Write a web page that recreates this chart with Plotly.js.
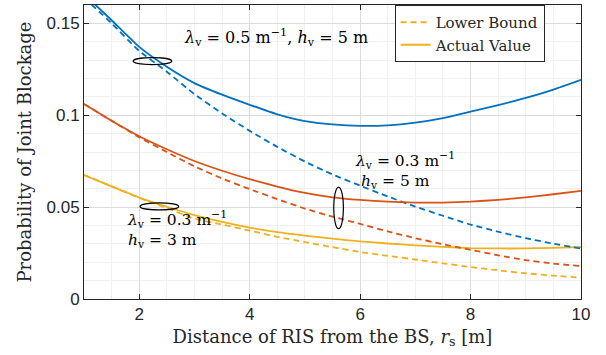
<!DOCTYPE html>
<html><head><meta charset="utf-8">
<script src="https://cdn.plot.ly/plotly-3.0.1.min.js"></script>
<style>html,body{margin:0;padding:0;background:#fff;}#chart{width:606px;height:355px;}</style>
</head><body><div id="chart"></div>
<script>
const distance = [1,1.5,2,2.5,3,3.5,4,4.5,5,5.5,6,6.5,7,7.5,8,8.5,9,9.5,10];
const actual_05_5 = [0.166,0.1517,0.1372,0.1264,0.1175,0.1112,0.1057,0.1005,0.0968,0.0950,0.0942,0.0945,0.0960,0.0985,0.1020,0.1055,0.1094,0.1140,0.1193];
const lower_05_5  = [0.164,0.150,0.135,0.1237,0.1115,0.1010,0.0915,0.0828,0.0748,0.0678,0.0617,0.0558,0.0503,0.0453,0.0405,0.0366,0.0331,0.0301,0.0275];
const actual_03_5 = [0.1061,0.0970,0.0886,0.0815,0.0751,0.0698,0.0652,0.0612,0.0577,0.0553,0.0539,0.0530,0.0525,0.0525,0.0530,0.0540,0.0553,0.0570,0.0589];
const lower_03_5  = [0.1061,0.0970,0.0880,0.0800,0.0722,0.0656,0.0598,0.0544,0.0492,0.0448,0.0409,0.0368,0.0331,0.0298,0.0268,0.0238,0.0211,0.0193,0.0179];
const actual_03_3 = [0.0675,0.0613,0.0552,0.0502,0.0457,0.0420,0.0389,0.0364,0.0345,0.0328,0.0314,0.0302,0.0292,0.0284,0.0277,0.0275,0.0275,0.0278,0.0283];
const lower_03_3  = [0.0675,0.0613,0.0550,0.0495,0.0437,0.0405,0.0372,0.0338,0.0310,0.0282,0.0256,0.0235,0.0215,0.0194,0.0174,0.0156,0.0140,0.0127,0.0116];
const legendNames = ['Lower Bound','Actual Value'];

const BLUE='#0072BD', RED='#D95319', YEL='#EDB120';
const serif = 'DejaVu Serif';
const sans = 'Liberation Sans';
const dash = '6px,4px';
function tr(y,color,isDash,show,name){
  return {x:distance,y:y,type:'scatter',mode:'lines',name:name||'',showlegend:!!show,
    line:{color:color,width:1.8,dash:isDash?dash:'solid',shape:'spline',smoothing:0.5},hoverinfo:'skip'};
}
const data = [
  tr(lower_03_3,YEL,true,true,legendNames[0]),
  tr(actual_03_3,YEL,false,true,legendNames[1]),
  tr(lower_05_5,BLUE,true,false),
  tr(actual_05_5,BLUE,false,false),
  tr(lower_03_5,RED,true,false),
  tr(actual_03_5,RED,false,false)
];
const axCol='#262626';
const layout = {
  width:606,height:355,margin:{l:84,r:25,t:5,b:56},
  paper_bgcolor:'#fff',plot_bgcolor:'#fff',
  xaxis:{range:[1,10],tickvals:[2,4,6,8,10],ticks:'inside',ticklen:5,tickcolor:axCol,
    showline:true,linecolor:axCol,linewidth:1,mirror:'ticks',zeroline:false,
    showgrid:true,gridcolor:'#dcdcdc',gridwidth:1,
    minor:{dtick:0.5,showgrid:true,gridcolor:'#f0f0f0',ticks:''},
    tickfont:{family:sans,size:17,color:axCol},
    title:{text:'Distance of RIS from the BS, <i>r</i><sub>s</sub> [m]',font:{family:serif,size:18,color:axCol},standoff:6}},
  yaxis:{range:[0,0.16],tickvals:[0,0.05,0.1,0.15],ticktext:['0','0.05','0.1','0.15'],ticks:'inside',ticklen:5,tickcolor:axCol,
    showline:true,linecolor:axCol,linewidth:1,mirror:'ticks',zeroline:false,
    showgrid:true,gridcolor:'#dcdcdc',gridwidth:1,
    minor:{dtick:0.01,showgrid:true,gridcolor:'#f0f0f0',ticks:''},
    tickfont:{family:sans,size:17,color:axCol},
    title:{text:'Probability of Joint Blockage',font:{family:serif,size:18,color:axCol},standoff:10}},
  legend:{x:0.625,y:1.0,xanchor:'left',yanchor:'top',bgcolor:'#fff',bordercolor:axCol,borderwidth:1,
    font:{family:serif,size:15,color:axCol},tracegroupgap:0,itemwidth:30},
  showlegend:true,
  shapes:[
    {type:'circle',xref:'x',yref:'y',x0:2.24-0.35,x1:2.24+0.35,y0:0.1295-0.0019,y1:0.1295+0.0019,line:{color:'#000',width:1.2}},
    {type:'circle',xref:'x',yref:'y',x0:5.61-0.088,x1:5.61+0.088,y0:0.0496-0.0113,y1:0.0496+0.0113,line:{color:'#000',width:1.2}},
    {type:'circle',xref:'x',yref:'y',x0:2.365-0.35,x1:2.365+0.35,y0:0.0504-0.0019,y1:0.0504+0.0019,line:{color:'#000',width:1.2}}
  ],
  annotations:[
    {xref:'x',yref:'y',x:4.47,y:0.1425,xanchor:'center',yanchor:'middle',showarrow:false,
     text:'<i>λ</i><sub>v</sub> = 0.5 m<sup>−1</sup>, <i>h</i><sub>v</sub> = 5 m',font:{family:serif,size:16,color:'#000'}},
    {xref:'x',yref:'y',x:5.88,y:0.0702,xanchor:'left',yanchor:'middle',align:'left',showarrow:false,
     text:'<i>λ</i><sub>v</sub> = 0.3 m<sup>−1</sup><br> <i>h</i><sub>v</sub> = 5 m',font:{family:serif,size:15.5,color:'#000'}},
    {xref:'x',yref:'y',x:1.74,y:0.0378,xanchor:'left',yanchor:'middle',align:'left',showarrow:false,
     text:'<i>λ</i><sub>v</sub> = 0.3 m<sup>−1</sup><br><i>h</i><sub>v</sub> = 3 m',font:{family:serif,size:15.5,color:'#000'}}
  ]
};
Plotly.newPlot('chart',data,layout,{staticPlot:true,displayModeBar:false});
</script></body></html>
